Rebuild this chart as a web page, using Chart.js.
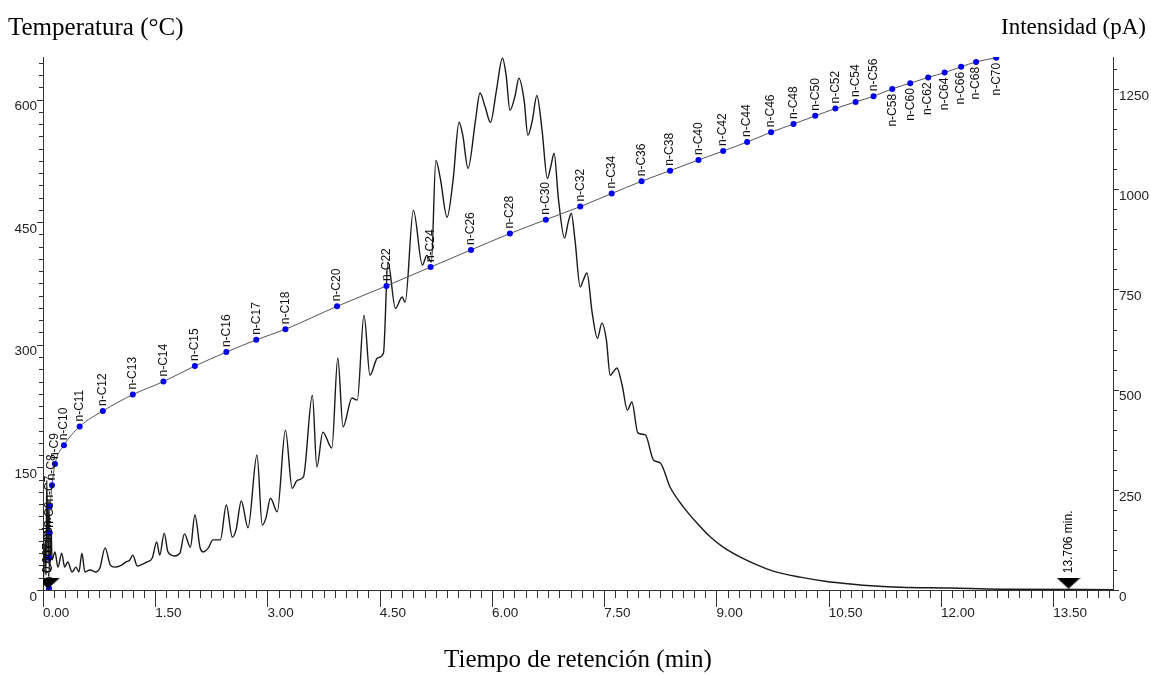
<!DOCTYPE html>
<html><head><meta charset="utf-8">
<script src="https://cdn.jsdelivr.net/npm/chart.js@4.4.1/dist/chart.umd.min.js"></script>
<style>html,body{margin:0;padding:0;background:#fff;}canvas{display:block}</style>
</head><body>
<canvas id="c" width="1151" height="675"></canvas>
<script>
// ---- data ----
const chromTime = [0.00,0.03,0.04,0.05,0.07,0.08,0.09,0.11,0.12,0.16,0.20,0.25,0.29,0.33,0.39,0.44,0.48,0.52,0.56,0.63,0.70,0.76,0.83,0.90,0.96,1.03,1.11,1.16,1.20,1.26,1.30,1.39,1.46,1.52,1.56,1.62,1.67,1.76,1.83,1.89,1.97,2.03,2.10,2.14,2.21,2.27,2.37,2.45,2.53,2.58,2.65,2.74,2.86,2.93,2.98,3.04,3.13,3.24,3.33,3.40,3.48,3.60,3.66,3.74,3.86,3.94,4.01,4.13,4.20,4.29,4.37,4.47,4.55,4.61,4.71,4.80,4.84,4.95,5.07,5.13,5.19,5.25,5.31,5.40,5.48,5.56,5.61,5.68,5.78,5.84,5.91,5.98,6.06,6.14,6.19,6.24,6.31,6.36,6.43,6.48,6.54,6.60,6.67,6.74,6.79,6.83,6.89,6.97,7.02,7.06,7.11,7.18,7.22,7.27,7.34,7.41,7.47,7.53,7.58,7.62,7.67,7.74,7.81,7.87,7.95,8.05,8.16,8.25,8.38,8.56,8.74,8.92,9.09,9.32,9.55,9.76,10.12,10.45,10.79,11.12,11.46,12.13,12.79,14.30];
const chromSignal = [2,125,37,274,75,224,50,150,75,95,57,92,57,70,45,57,45,92,45,50,45,55,105,62,57,60,70,75,87,60,62,70,80,120,87,142,95,85,92,140,107,187,105,95,105,125,125,212,132,150,222,155,337,162,180,229,195,399,254,274,282,486,307,394,354,579,407,479,474,686,536,579,591,818,703,731,718,948,811,835,818,1072,1027,930,1022,1167,1135,1052,1172,1240,1205,1167,1247,1327,1284,1197,1234,1277,1222,1135,1172,1234,1147,1027,1060,1090,973,878,918,940,873,756,773,791,691,628,666,623,536,544,554,511,449,469,392,387,324,317,257,207,167,132,107,82,62,47,32,22,15,10,7,5,2,1];
const alkaneCarbons = [4,5,6,7,8,9,10,11,12,13,14,15,16,17,18,20,22,24,26,28,30,32,34,36,38,40,42,44,46,48,50,52,54,56,58,60,62,64,66,68,70];
const alkaneTimes = [0.08,0.08,0.09,0.09,0.12,0.16,0.28,0.49,0.80,1.20,1.61,2.03,2.45,2.85,3.24,3.93,4.59,5.18,5.72,6.24,6.72,7.18,7.60,8.00,8.38,8.76,9.09,9.41,9.73,10.03,10.32,10.59,10.86,11.10,11.35,11.59,11.83,12.05,12.27,12.47,12.74];
const alkaneTemps = [2,39,70,102,128,154,177,200,219,239,255,274,291,306,319,347,372,395,416,436,453,469,485,500,513,526,537,548,560,570,580,589,597,604,613,620,627,633,640,646,651];
const markerTimes = [0.067, 13.706];
const markerSignal = [17, 17];
const markerLabels = ['0.067 min.', '13.706 min.'];
const xTicks = [0,1.5,3,4.5,6,7.5,9,10.5,12,13.5];
const tempTicks = [0,150,300,450,600];
const signalTicks = [0,250,500,750,1000,1250];
const xTitle = 'Tiempo de retención (min)';
const leftTitle = 'Temperatura (°C)';
const rightTitle = 'Intensidad (pA)';
const firstLabelBelow = 58; // alkanes from this carbon number are labelled under the curve

// ---- helpers ----
const chromData = chromTime.map((t, i) => ({x: t, y: chromSignal[i]}));
const alkData = alkaneTimes.map((t, i) => ({x: t, y: alkaneTemps[i]}));
const markData = markerTimes.map((t, i) => ({x: t, y: markerSignal[i]}));

const tri = document.createElement('canvas');
tri.width = 24; tri.height = 11;
(function(){ const g = tri.getContext('2d'); g.fillStyle = '#000'; g.beginPath(); g.moveTo(0,0); g.lineTo(24,0); g.lineTo(12,11); g.closePath(); g.fill(); })();

const sans = '"Liberation Sans", Arial, sans-serif';
const serif = '"Liberation Serif", "Times New Roman", serif';

const decor = {
  id: 'decor',
  afterDraw(chart) {
    const ctx = chart.ctx;
    const {x, y, y2} = chart.scales;
    ctx.save();
    ctx.strokeStyle = '#333'; ctx.lineWidth = 1;
    for (let i = 0; i * 0.15 <= x.max + 1e-9; i++) {
      const px = Math.round(x.getPixelForValue(i * 0.15)) + 0.5;
      const len = (i % 10 === 0) ? 17 : 8;
      ctx.beginPath(); ctx.moveTo(px, x.top); ctx.lineTo(px, x.top + len); ctx.stroke();
    }
    for (let i = 0; i * 15 <= y.max + 1e-9; i++) {
      const py = Math.round(y.getPixelForValue(i * 15)) + 0.5;
      const len = (i % 10 === 0) ? 6 : 4;
      ctx.beginPath(); ctx.moveTo(y.right, py); ctx.lineTo(y.right - len, py); ctx.stroke();
    }
    for (let i = 0; i * 50 <= y2.max + 1e-9; i++) {
      const py = Math.round(y2.getPixelForValue(i * 50)) + 0.5;
      const len = (i % 5 === 0) ? 6 : 4;
      ctx.beginPath(); ctx.moveTo(y2.left, py); ctx.lineTo(y2.left + len, py); ctx.stroke();
    }
    ctx.fillStyle = '#000';
    ctx.textBaseline = 'middle';
    ctx.font = '25px ' + serif;
    ctx.textAlign = 'left';
    ctx.fillText(leftTitle, 8, 28);
    ctx.font = '23px ' + serif;
    ctx.textAlign = 'right';
    ctx.fillText(rightTitle, 1146, 28);
    ctx.restore();
  },
  afterDatasetsDraw(chart) {
    const ctx = chart.ctx;
    ctx.save();
    ctx.fillStyle = '#111';
    ctx.font = '12px ' + sans;
    ctx.textBaseline = 'middle';
    const meta = chart.getDatasetMeta(0);
    meta.data.forEach((pt, i) => {
      const c = alkaneCarbons[i];
      ctx.save();
      ctx.translate(pt.x, pt.y);
      ctx.rotate(-Math.PI / 2);
      if (c >= firstLabelBelow) { ctx.textAlign = 'right'; ctx.fillText('n-C' + c, -5, 0); }
      else { ctx.textAlign = 'left'; ctx.fillText('n-C' + c, 5, 0); }
      ctx.restore();
    });
    const mm = chart.getDatasetMeta(2);
    ctx.fillStyle = '#000';
    mm.data.forEach((pt, i) => {
      ctx.save();
      ctx.translate(pt.x, pt.y);
      ctx.rotate(-Math.PI / 2);
      ctx.textAlign = 'left';
      ctx.fillText(markerLabels[i], 10, 0);
      ctx.restore();
    });
    ctx.restore();
  }
};

const setTicks = arr => (scale) => { scale.ticks = arr.map(v => ({value: v})); };

new Chart(document.getElementById('c'), {
  type: 'line',
  data: {
    datasets: [
      { label: 'Temperatura', data: alkData, yAxisID: 'y', borderColor: '#555', borderWidth: 1,
        pointRadius: 3, pointBackgroundColor: '#0000ee', pointBorderWidth: 0, pointHoverRadius: 3,
        cubicInterpolationMode: 'monotone', order: 0 },
      { label: 'Señal', data: chromData, yAxisID: 'y2', borderColor: '#1a1a1a', borderWidth: 1.4,
        pointRadius: 0, cubicInterpolationMode: 'monotone', order: 1 },
      { label: 'Marcas', data: markData, yAxisID: 'y2', showLine: false, pointStyle: tri,
        pointRadius: 10, order: -1 }
    ]
  },
  options: {
    responsive: false, animation: false,
    layout: { padding: { top: 57, left: 0, right: 0, bottom: 0 } },
    plugins: { legend: { display: false }, tooltip: { enabled: false } },
    scales: {
      x: {
        type: 'linear', position: 'bottom', min: 0, max: 14.3,
        afterBuildTicks: setTicks(xTicks),
        afterFit: s => { s.height = 85; },
        grid: { display: false, drawTicks: false },
        border: { display: true, color: '#333', width: 1 },
        ticks: { align: 'start', padding: 15, color: '#222', font: { family: sans, size: 13.5 },
                 callback: v => Number(v).toFixed(2), maxRotation: 0, autoSkip: false },
        title: { display: true, text: xTitle, color: '#000', font: { family: serif, size: 25 },
                 padding: { top: 0, bottom: 0 } }
      },
      y: {
        type: 'linear', position: 'left', min: 0, max: 652,
        afterBuildTicks: setTicks(tempTicks),
        afterFit: s => { s.width = 43; },
        grid: { display: false, drawTicks: false },
        border: { display: true, color: '#333', width: 1 },
        ticks: { padding: 6, labelOffset: 7, color: '#222', font: { family: sans, size: 13.5 },
                 callback: v => String(v), autoSkip: false }
      },
      y2: {
        type: 'linear', position: 'right', min: 0, max: 1330,
        afterBuildTicks: setTicks(signalTicks),
        afterFit: s => { s.width = 38; },
        grid: { display: false, drawTicks: false },
        border: { display: true, color: '#333', width: 1 },
        ticks: { padding: 6, labelOffset: 7, color: '#222', font: { family: sans, size: 13.5 },
                 callback: v => String(v), autoSkip: false }
      }
    }
  },
  plugins: [decor]
});
</script>
</body></html>
